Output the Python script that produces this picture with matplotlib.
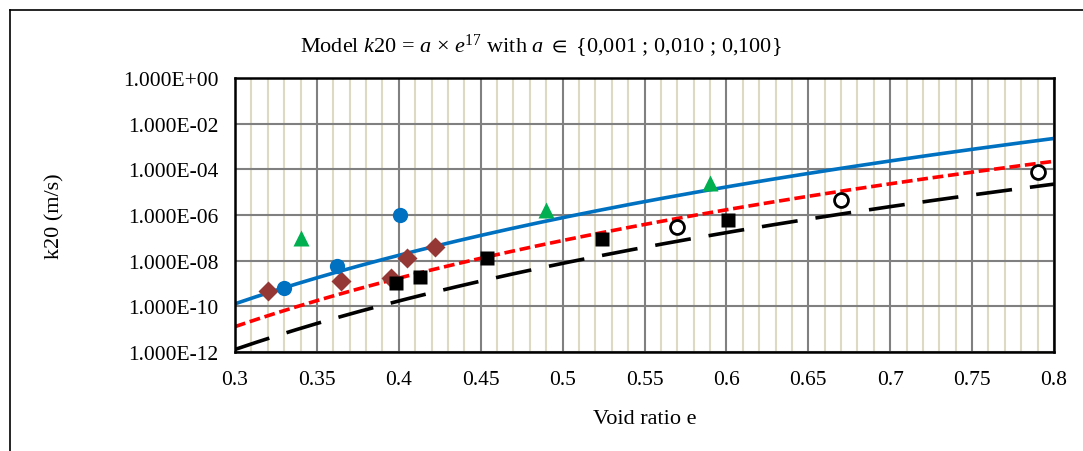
import numpy as np
import matplotlib
matplotlib.use("Agg")
from matplotlib import pyplot as plt
from matplotlib.lines import Line2D
from matplotlib.ticker import FixedLocator, FuncFormatter, MultipleLocator

plt.rcParams['font.family'] = ['Liberation Serif', 'DejaVu Serif']
plt.rcParams['mathtext.fontset'] = 'custom'
plt.rcParams['mathtext.rm'] = 'Liberation Serif'
plt.rcParams['mathtext.it'] = 'Liberation Serif:italic'
plt.rcParams['mathtext.fallback'] = 'stix'

# model k20 = a * e^17
model_a = [0.100, 0.010, 0.001]
model_colors = ['#0070C0', '#FF0000', '#000000']
model_styles = ['-', (0, (3, 1.3)), (0, (10, 5))]
model_exponent = 17

# measured points (void ratio, k20 in m/s)
blue_e = [0.330, 0.362, 0.401]
blue_k = [6.5e-10, 6.0e-9, 1.05e-6]

green_e = [0.340, 0.490, 0.590]
green_k = [1.0e-7, 1.6e-6, 2.6e-5]

brown_e = [0.320, 0.365, 0.395, 0.405, 0.422]
brown_k = [4.7e-10, 1.25e-9, 1.7e-9, 1.3e-8, 4.0e-8]

square_e = [0.398, 0.413, 0.454, 0.524, 0.601]
square_k = [1.1e-9, 2.0e-9, 1.3e-8, 8.5e-8, 6.0e-7]

open_e = [0.570, 0.670, 0.790]
open_k = [3.0e-7, 4.5e-6, 7.6e-5]

y_ticks = [1e-12, 1e-10, 1e-8, 1e-6, 1e-4, 1e-2, 1e0]

fig = plt.figure(figsize=(10.83, 4.52), dpi=100)
ax = fig.add_axes([235 / 1083, 1 - 353 / 452, 819 / 1083, 274 / 452])

# chart area border (only left and top edges are in view)
fig.add_artist(Line2D([9.5 / 1083, 9.5 / 1083], [0, 1 - 11 / 452], color='black', lw=1.2))
fig.add_artist(Line2D([9.5 / 1083, 1], [1 - 11 / 452, 1 - 11 / 452], color='black', lw=1.2))

e = np.linspace(0.3, 0.8, 200)
for a, c, ls in zip(model_a, model_colors, model_styles):
    ax.plot(e, a * e ** model_exponent, color=c, ls=ls, lw=2.6, zorder=3)

ax.plot(brown_e, brown_k, 'D', color='#953735', ms=10, mec='none', zorder=4)
ax.plot(blue_e, blue_k, 'o', color='#0070C0', ms=11, mec='none', zorder=4)
ax.plot(green_e, green_k, '^', color='#00B050', ms=12, mec='none', zorder=4)
ax.plot(square_e, square_k, 's', color='black', ms=10, mec='none', zorder=4)
ax.plot(open_e, open_k, 'o', mfc='white', mec='black', mew=2, ms=10, zorder=4)

ax.set_yscale('log')
ax.set_xlim(0.3, 0.8)
ax.set_ylim(1e-12, 1e0)
ax.xaxis.set_major_locator(MultipleLocator(0.05))
ax.xaxis.set_minor_locator(MultipleLocator(0.01))
ax.xaxis.set_major_formatter(FuncFormatter(lambda v, p: f"{v:.2f}".rstrip('0').rstrip('.')))
ax.yaxis.set_major_locator(FixedLocator(y_ticks))
ax.yaxis.set_minor_locator(FixedLocator([]))
ax.yaxis.set_major_formatter(FuncFormatter(lambda v, p: f"{v:.3E}"))

ax.grid(which='minor', axis='x', color='#DDD9C3', lw=1.5, zorder=0)
ax.grid(which='major', axis='both', color='#808080', lw=1.5, zorder=1)
ax.set_axisbelow(True)
ax.tick_params(which='both', length=0, labelsize=15.5, colors='black')
ax.tick_params(axis='x', pad=13)
ax.tick_params(axis='y', pad=12)
for s in ax.spines.values():
    s.set_linewidth(1.8)
    s.set_color('black')
    s.set_zorder(5)

ax.set_xlabel('Void ratio e', fontsize=16, va='center')
ax.xaxis.set_label_coords(0.5, -(419 - 353) / 274)
ax.set_ylabel('k20 (m/s)', fontsize=16, va='center')
ax.yaxis.set_label_coords((55 - 235) / 819, 0.5)

fig.text(541 / 1083, 1 - 46 / 452,
         r"Model $\mathit{k20}$ = $\mathit{a}$ × $\mathit{e}^{\mathit{17}}$ with $\mathit{a}$ $\in$ {0,001 ; 0,010 ; 0,100}",
         ha='center', va='center', fontsize=16)

fig.savefig('out.png', dpi=100)
